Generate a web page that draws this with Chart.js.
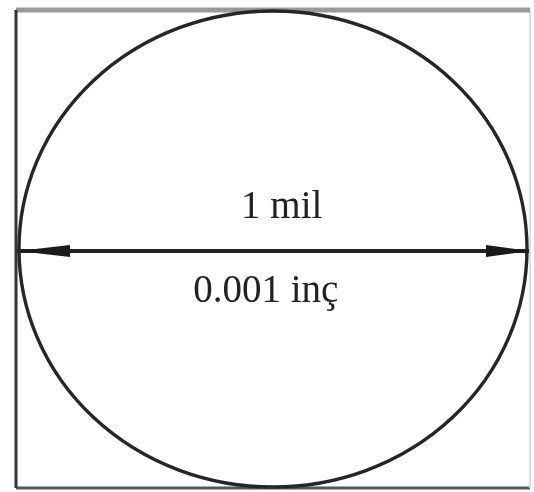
<!DOCTYPE html>
<html>
<head>
<meta charset="utf-8">
<script src="https://cdn.jsdelivr.net/npm/chart.js@4/dist/chart.umd.min.js"></script>
<style>
  body { margin: 0; background: #fff; }
  #wrap { width: 534px; height: 492px; }
</style>
</head>
<body>
<div id="wrap"><canvas id="c" width="534" height="492"></canvas></div>
<script>
// square, circle and arrow in "mil" units, centred on 0
const squareX = [-0.5, 0.5];
const squareY = [-0.5, 0.5];
const circleCenter = [0, 0];
const circleRadius = 0.5;
const arrowX = [-0.5, 0.5];
const arrowY = -0.004;
const labelText = ['1 mil', '0.001 inç'];
const labelX = [0.017, -0.014];
const labelY = [0.065, -0.111];

const edge = function(points, color, width) {
    return {
        data: points,
        borderColor: color,
        borderWidth: width,
        pointRadius: 0,
        showLine: true,
        clip: false
    };
};

// circle, arrow heads and texts, placed through the chart scales
const drawing = {
    id: 'drawing',
    afterDatasetsDraw: function(chart) {
        const ctx = chart.ctx;
        const xs = chart.scales.x;
        const ys = chart.scales.y;
        ctx.save();

        const cx = xs.getPixelForValue(circleCenter[0]);
        const cy = ys.getPixelForValue(circleCenter[1]);
        const rx = xs.getPixelForValue(circleCenter[0] + circleRadius) - cx - 3;
        const ry = cy - ys.getPixelForValue(circleCenter[1] + circleRadius) - 1;
        ctx.beginPath();
        ctx.ellipse(cx, cy, rx, ry, 0, 0, Math.PI * 2);
        ctx.strokeStyle = '#262626';
        ctx.lineWidth = 3.4;
        ctx.stroke();

        const ay = ys.getPixelForValue(arrowY);
        const left = xs.getPixelForValue(arrowX[0]) + 2;
        const right = xs.getPixelForValue(arrowX[1]);
        ctx.fillStyle = '#1a1a1a';
        ctx.beginPath();
        ctx.moveTo(left, ay);
        ctx.lineTo(left + 52, ay - 6);
        ctx.lineTo(left + 52, ay + 6);
        ctx.closePath();
        ctx.fill();
        ctx.beginPath();
        ctx.moveTo(right, ay);
        ctx.lineTo(right - 44, ay - 6);
        ctx.lineTo(right - 44, ay + 6);
        ctx.closePath();
        ctx.fill();

        ctx.font = '39px "Liberation Serif", "Times New Roman", serif';
        ctx.textAlign = 'center';
        ctx.textBaseline = 'alphabetic';
        ctx.fillStyle = '#222';
        for (let i = 0; i < labelText.length; i++) {
            ctx.fillText(labelText[i], xs.getPixelForValue(labelX[i]), ys.getPixelForValue(labelY[i]));
        }
        ctx.restore();
    }
};

new Chart(document.getElementById('c'), {
    type: 'scatter',
    data: {
        datasets: [
            edge([{x: squareX[0], y: squareY[0]}, {x: squareX[0], y: squareY[1]}], '#333', 3),
            edge([{x: squareX[0], y: squareY[1]}, {x: squareX[1], y: squareY[1]}], '#999', 5),
            edge([{x: squareX[1], y: squareY[1]}, {x: squareX[1], y: squareY[0]}], '#ddd', 2),
            edge([{x: squareX[0], y: squareY[0]}, {x: squareX[1], y: squareY[0]}], '#555', 3),
            edge([{x: arrowX[0], y: arrowY}, {x: arrowX[1], y: arrowY}], '#222', 4)
        ]
    },
    options: {
        responsive: false,
        animation: false,
        layout: { padding: { left: 16, top: 10, right: 4, bottom: 4 } },
        plugins: { legend: { display: false }, tooltip: { enabled: false } },
        scales: {
            x: { type: 'linear', min: -0.5, max: 0.5, display: false },
            y: { type: 'linear', min: -0.5, max: 0.5, display: false }
        }
    },
    plugins: [drawing]
});
</script>
</body>
</html>
